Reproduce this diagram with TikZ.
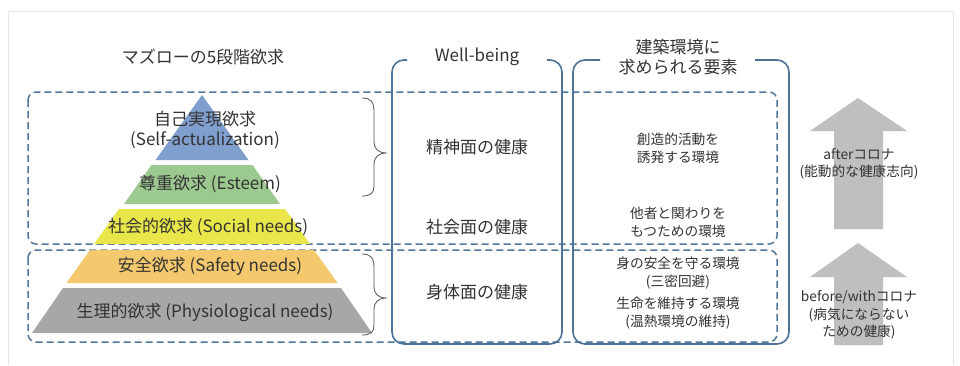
\documentclass[tikz,border=0pt]{standalone}
\usepackage{fontspec}
\setmainfont{Noto Sans CJK JP}
\definecolor{txt}{HTML}{333333}
\definecolor{frame}{HTML}{E6E6E6}
\definecolor{boxblue}{HTML}{4E7399}
\definecolor{dashblue}{HTML}{52769C}
\definecolor{pyrblue}{HTML}{809FCE}
\definecolor{pyrgreen}{HTML}{9CC98F}
\definecolor{pyryellow}{HTML}{E8E649}
\definecolor{pyrorange}{HTML}{F4C86C}
\definecolor{pyrgray}{HTML}{A7A6A9}
\definecolor{arrowgray}{HTML}{BEBFC1}
\definecolor{bracegray}{HTML}{555555}
\begin{document}
\begin{tikzpicture}[x=1pt,y=-1pt,
  bigtext/.style={text=txt, font=\fontsize{17}{20}\selectfont, align=center, inner sep=0pt},
  smalltext/.style={text=txt, font=\fontsize{13.7}{18}\selectfont, align=center, inner sep=0pt},
  arrowtext/.style={text=txt, font=\fontsize{13.7}{17.5}\selectfont, align=center, inner sep=0pt},
  colbox/.style={draw=boxblue, line width=1.6pt, rounded corners=12pt},
  dashbox/.style={draw=dashblue, line width=1.5pt, dash pattern=on 7pt off 4pt, rounded corners=8pt},
  bracestyle/.style={draw=bracegray, line width=0.8pt},
  bigarrow/.style={fill=arrowgray, draw=none}
]
\useasboundingbox (0,0) rectangle (960,365);
\fill[white] (0,0) rectangle (960,365);
% outer frame
\draw[frame, line width=1pt] (8,365) -- (8,11) -- (953,11) -- (953,365);

% dashed groups
\draw[dashbox] (28,92) rectangle (777,244);
\draw[dashbox] (28,250) rectangle (777,342);

% pyramid
\fill[pyrblue] (202,95) -- (248.5,160) -- (155.5,160) -- cycle;
\fill[pyrgreen] (151.5,165) -- (252.5,165) -- (280,204) -- (124,204) -- cycle;
\fill[pyryellow] (119,209) -- (285,209) -- (310,244) -- (94,244) -- cycle;
\fill[pyrorange] (90,250) -- (314,250) -- (337.5,283) -- (66.5,283) -- cycle;
\fill[pyrgray] (63,288) -- (341,288) -- (372,333) -- (32,333) -- cycle;

% titles
\node[bigtext] (tmaslow) at (203,57) {マズローの5段階欲求};
\node[bigtext] (twell) at (477,57) {Well-being};
\node[bigtext] (tenv) at (678,57) {建築環境に\\求められる要素};

% pyramid labels
\node[bigtext] (p1) at (205,130) {自己実現欲求\\(Self-actualization)};
\node[bigtext] (p2) at (210,184) {尊重欲求 (Esteem)};
\node[bigtext] (p3) at (208,227) {社会的欲求 (Social needs)};
\node[bigtext] (p4) at (210,266) {安全欲求 (Safety needs)};
\node[bigtext] (p5) at (205,312) {生理的欲求 (Physiological needs)};

% column boxes
\draw[colbox] (407,60) -- (392,60) -- (392,344) -- (562,344) -- (562,60) -- (547,60);
\draw[colbox] (600,60) -- (573,60) -- (573,344) -- (789,344) -- (789,60) -- (755,60);

% braces
\coordinate (b1top) at (362,98);
\coordinate (b1tip) at (387,153);
\coordinate (b1bot) at (362,196);
\draw[bracestyle] (b1top) .. controls (371,98) and (374,102) .. (374,112) -- (374,141)
  .. controls (374,149) and (378,153) .. (b1tip)
  .. controls (378,153) and (374,157) .. (374,165) -- (374,186)
  .. controls (374,193) and (371,196) .. (b1bot);
\coordinate (b2top) at (362,254);
\coordinate (b2tip) at (387,298);
\coordinate (b2bot) at (362,335);
\draw[bracestyle] (b2top) .. controls (371,254) and (374,258) .. (374,268) -- (374,286)
  .. controls (374,294) and (378,298) .. (b2tip)
  .. controls (378,298) and (374,302) .. (374,310) -- (374,325)
  .. controls (374,332) and (371,335) .. (b2bot);

% well-being column
\node[bigtext] (w1) at (477,147) {精神面の健康};
\node[bigtext] (w2) at (477,227) {社会面の健康};
\node[bigtext] (w3) at (477,292) {身体面の健康};

% environment column
\node[smalltext] (e1) at (678,148) {創造的活動を\\誘発する環境};
\node[smalltext] (e2) at (678,222) {他者と関わりを\\もつための環境};
\node[smalltext] (e3) at (678,273) {身の安全を守る環境\\(三密回避)};
\node[smalltext] (e4) at (678,313) {生命を維持する環境\\(温熱環境の維持)};

% arrows
\fill[bigarrow] (858,98) -- (907,131) -- (883,131) -- (883,229) -- (834,229) -- (834,131) -- (810,131) -- cycle;
\fill[bigarrow] (858,243) -- (907,277) -- (883,277) -- (883,345) -- (834,345) -- (834,277) -- (810,277) -- cycle;
\node[arrowtext] (a1) at (859,164) {afterコロナ\\(能動的な健康志向)};
\node[arrowtext] (a2) at (859,315) {before/withコロナ\\(病気にならない\\ための健康)};
\end{tikzpicture}
\end{document}
